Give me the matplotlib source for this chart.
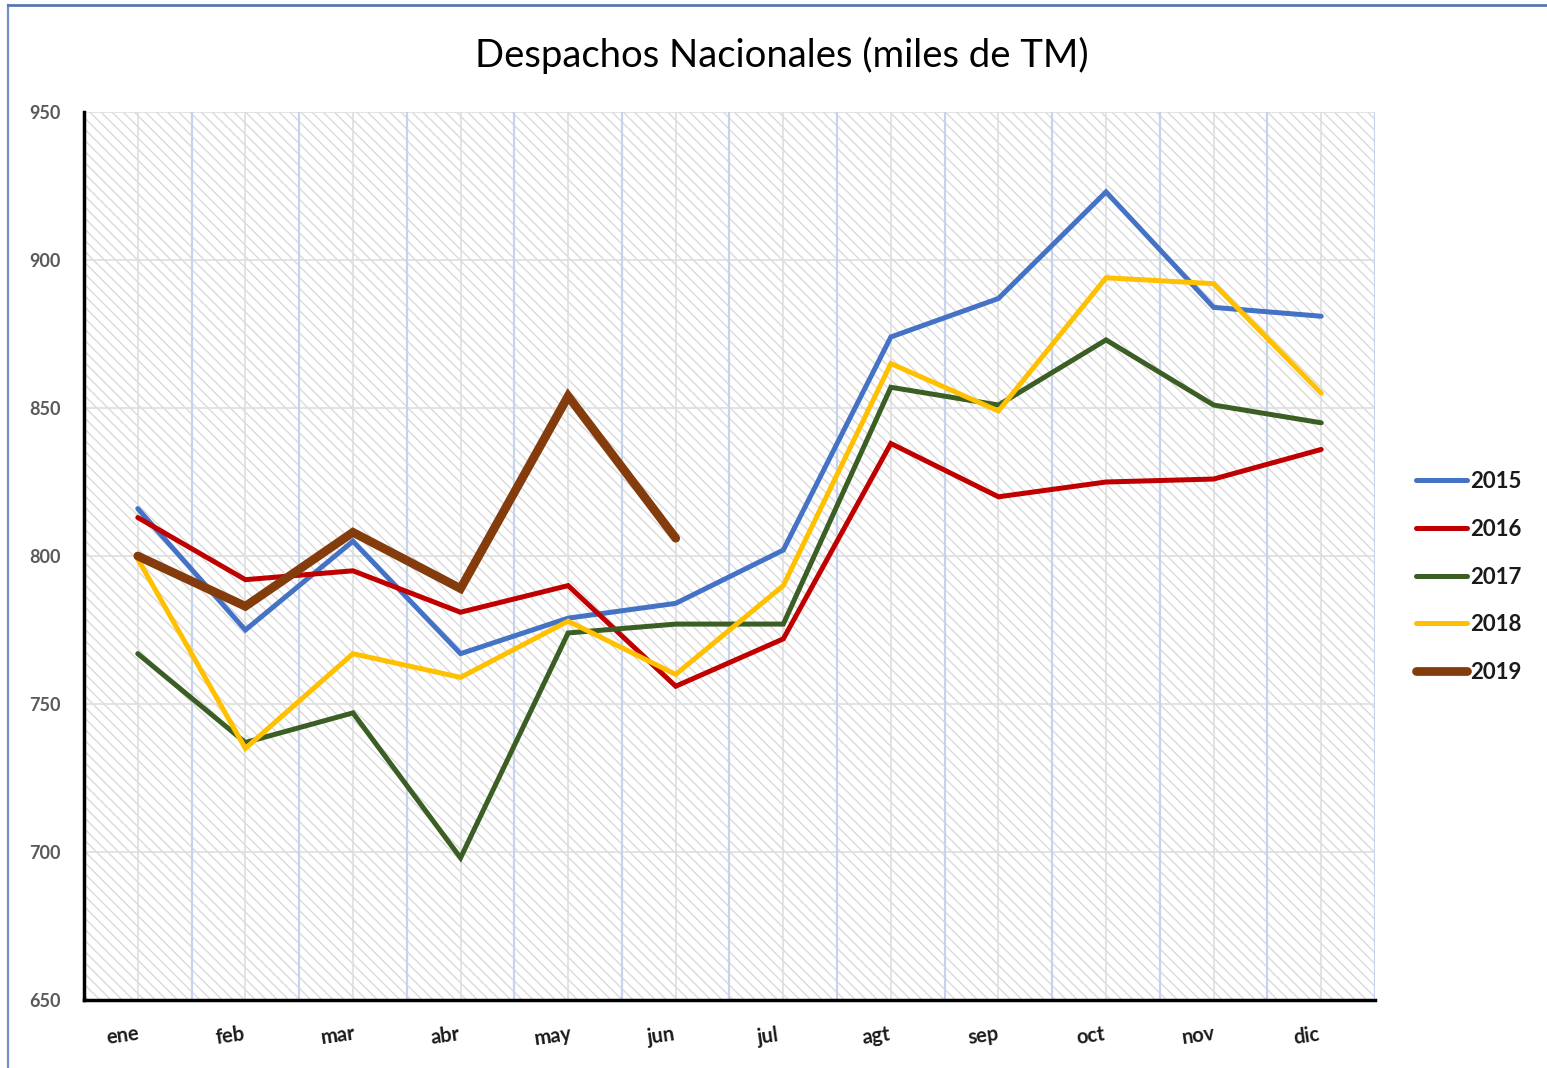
import matplotlib
matplotlib.use("Agg")
import matplotlib.pyplot as plt
import matplotlib.transforms as mtransforms
from matplotlib.lines import Line2D
from matplotlib.patches import Rectangle

months = ["ene", "feb", "mar", "abr", "may", "jun", "jul", "agt", "sep", "oct", "nov", "dic"]
y2015 = [816, 775, 805, 767, 779, 784, 802, 874, 887, 923, 884, 881]
y2016 = [813, 792, 795, 781, 790, 756, 772, 838, 820, 825, 826, 836]
y2017 = [767, 737, 747, 698, 774, 777, 777, 857, 851, 873, 851, 845]
y2018 = [799, 735, 767, 759, 778, 760, 790, 865, 849, 894, 892, 855]
y2019 = [800, 783, 808, 789, 854, 806]
series_labels = ["2015", "2016", "2017", "2018", "2019"]
series_colors = ["#4472C4", "#C00000", "#3A5E24", "#FFC000", "#843C0C"]
yticks = [650, 700, 750, 800, 850, 900, 950]

W, H, DPI = 1547, 1068, 100
plt.rcParams["hatch.linewidth"] = 1.0
fig = plt.figure(figsize=(W / DPI, H / DPI), dpi=DPI)
fig.patch.set_facecolor("white")
ax = fig.add_axes([84 / W, 1 - 1000 / H, (1375 - 84) / W, (1000 - 112) / H])

font = "Lato"
ax.set_facecolor("white")
ax.add_patch(Rectangle((0, 0), 1, 1, transform=ax.transAxes, facecolor="none",
                       edgecolor="#dadada", lw=0, hatch="\\\\\\", zorder=0.5))

x = list(range(len(months)))
ax.set_xlim(-0.5, len(months) - 0.5)
ax.set_ylim(650, 950)

# gridlines
for yt in yticks[1:]:
    ax.axhline(yt, color="#dedede", lw=1.2, zorder=1)
for xi in x:
    ax.axvline(xi, color="#dedede", lw=1.2, zorder=1)
    ax.axvline(xi + 0.5, color="#c5d3ec", lw=1.6, zorder=1)

data = [y2015, y2016, y2017, y2018, y2019]
for vals, lab, col in zip(data, series_labels, series_colors):
    lw = 6.3 if lab == "2019" else 3.6
    ax.plot(x[:len(vals)], vals, color=col, lw=lw, label=lab, zorder=3,
            solid_capstyle="round", solid_joinstyle="miter")

for s in ["top", "right"]:
    ax.spines[s].set_visible(False)
for s in ["left", "bottom"]:
    ax.spines[s].set_color("black")
    ax.spines[s].set_linewidth(2.5)
    ax.spines[s].set_zorder(4)

ax.set_yticks(yticks)
ax.set_yticklabels([str(v) for v in yticks], fontsize=13, color="#595959",
                   fontfamily=font, fontweight="bold")
ax.tick_params(axis="y", length=0, pad=17)

ax.set_xticks(x)
ax.set_xticklabels(months, fontsize=14.5, color="#1a1a1a", fontfamily=font,
                   fontweight="bold", rotation=8, ha="center", va="center")
ax.tick_params(axis="x", length=0, pad=26)
offset = mtransforms.ScaledTranslation(-15 / DPI, 0, fig.dpi_scale_trans)
for lbl in ax.get_xticklabels():
    lbl.set_transform(lbl.get_transform() + offset)

fig.text(782 / W, 1 - 55 / H, "Despachos Nacionales (miles de TM)", ha="center", va="center",
         fontsize=27.5, fontfamily=font, color="black")

handles = [Line2D([0], [0], color=c, lw=(6.3 if l == "2019" else 3.6), solid_capstyle="round")
           for l, c in zip(series_labels, series_colors)]
leg = fig.legend(handles, series_labels, loc="center left",
                 bbox_to_anchor=(1416 / W, 1 - 577 / H), frameon=False,
                 prop={"family": font, "weight": "bold", "size": 16},
                 handlelength=2.3, handletextpad=0.15, labelspacing=1.2,
                 borderpad=0, borderaxespad=0)
for t in leg.get_texts():
    t.set_color("#1a1a1a")

# outer chart border
fig.add_artist(Line2D([8 / W, 8 / W], [0, 1 - 5 / H], transform=fig.transFigure,
                      color="#7090c8", lw=1.6))
fig.add_artist(Line2D([8 / W, 1], [1 - 5 / H, 1 - 5 / H], transform=fig.transFigure,
                      color="#5a78b0", lw=2.0))

fig.savefig("out.png", dpi=DPI)
